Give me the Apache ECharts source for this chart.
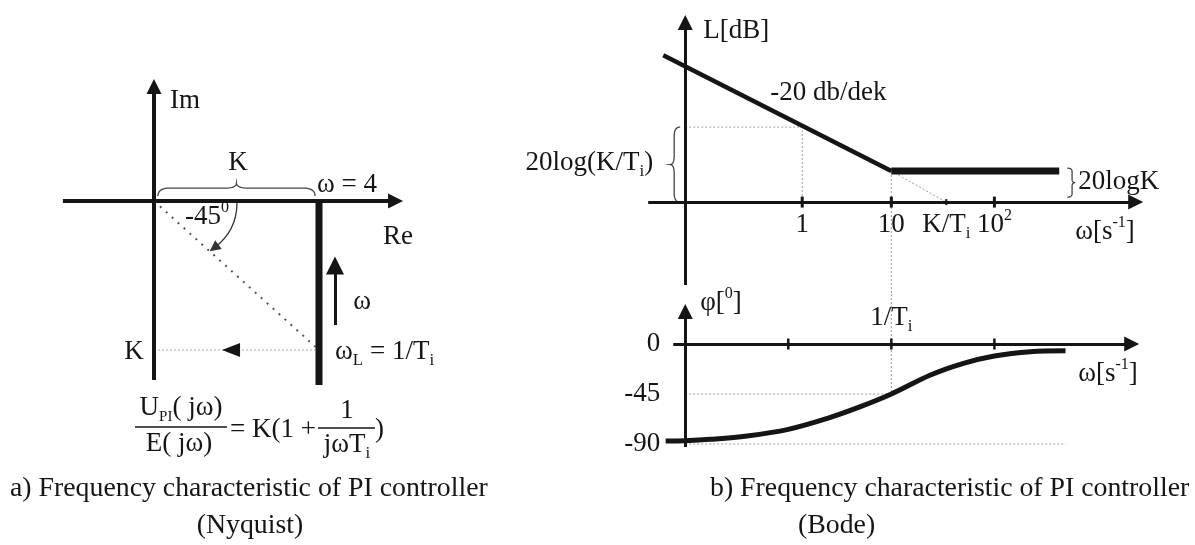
<!DOCTYPE html>
<html>
<head>
<meta charset="utf-8">
<script src="https://cdn.jsdelivr.net/npm/echarts@6/dist/echarts.min.js"></script>
<style>
  html, body { margin: 0; padding: 0; background: #fff; }
  #chart { width: 1195px; height: 545px; }
</style>
</head>
<body>
<div id="chart"></div>
<script>
// ---------- Nyquist plane (Re / Im, in units of K) ----------
const nyqLocus = [[1, 0], [1, -1.235]];            // Re = K, Im falls from 0 as ω decreases
const nyqCorner = [1, -1];                          // point at ω_L = 1/T_i
const nyqReAxis = [[-0.552, 0], [1.464, 0]];
const nyqImAxis = [[0, -1.201], [0, 0.768]];
const nyqOmegaArrow = [[1.097, -0.832], [1.097, -0.433]];
const nyqAngleArc = [[0.503, -0.013], [0.364, -0.315]];
const nyqKArrowAt = [0.467, -1];
const nyqKBrace = [[0.024, 0.034], [0.976, 0.034]];

// ---------- Bode magnitude: x = log10(ω), y = L [dB] ----------
const magSlope = [[-1.213, 94.8], [1, 20]];         // -20 dB/dek asymptote
const magFlat = [[1, 20], [2.629, 20]];             // 20logK
const magExtension = [[1, 20], [1.533, 0]];         // slope continued down to K/T_i
const magKTiLevel = 48.4;                           // 20log(K/T_i)
const magXAxis = [[-1.359, 0], [3.371, 0]];
const magYAxis = [[-1, -53.5], [-1, 115.8]];
const magTickPos = [0.135, 1, 1.533, 2];
const magTickLabels = ['{t|1}', '{t|10}', '{t|K/T}{sub|i}', '{t|10}{sup|2}'];
const magBraces = [
  { from: [-1.049, 48.4], to: [-1.049, 0], depth: 10 },
  { from: [2.707, 21.9], to: [2.707, 3.2], depth: -8 }
];

// ---------- Bode phase: x = log10(ω), y = φ [deg] ----------
const phaseCurve = [
  [-1.19, -87.3], [-1.0, -87.0], [-0.76, -85.8], [-0.4, -82.8], [0, -76.8],
  [0.38, -66.9], [0.7, -56.4], [1.0, -45], [1.38, -27.9], [1.7, -17.4],
  [2.0, -10.8], [2.35, -6.9], [2.69, -6.0]
];
const phaseXAxis = [[-1.116, 0], [3.332, 0]];
const phaseYAxis = [[-1, -92.7], [-1, 29.3]];
const phaseTickPos = [0, 1, 2];
const phaseLevels = [0, -45, -90];
const phaseLevelLabels = ['0', '-45', '-90'];

// axis ranges of the three panels
const NYQ_X = [-0.6, 1.6], NYQ_Y = [-1.3, 0.9];
const LOG_X = [-1.4, 3.5];
const MAG_Y = [-59.3, 122];
const PH_Y = [-99, 45];

const SERIF = '"Liberation Serif", "Times New Roman", serif';
const INK = '#151515';
const GUIDE = '#9a9a9a';
const CAPTION_SIZE = 27.8;
const RICH = {
  t:   { fontSize: 27, fontFamily: SERIF, lineHeight: 34, fill: INK },
  sub: { fontSize: 17, fontFamily: SERIF, lineHeight: 17, verticalAlign: 'bottom', fill: INK },
  sup: { fontSize: 16, fontFamily: SERIF, lineHeight: 22, verticalAlign: 'top', fill: INK },
  ssub:{ fontSize: 15, fontFamily: SERIF, lineHeight: 16, verticalAlign: 'bottom', fill: INK }
};

function axisRef(i) { return { xAxisIndex: i, yAxisIndex: i }; }

function arrowLines(i, segs, width, size, extra) {
  return {
    type: 'lines', coordinateSystem: 'cartesian2d', ...axisRef(i), silent: true, z: 5,
    symbol: ['none', 'triangle'], symbolSize: size,
    lineStyle: Object.assign({ color: INK, width: width, opacity: 1 }, extra || {}),
    data: segs.map(s => ({ coords: s }))
  };
}

function polyline(i, pts, style, opts) {
  return Object.assign({
    type: 'line', ...axisRef(i), silent: true, showSymbol: false, symbol: 'none',
    data: pts, lineStyle: Object.assign({ color: INK, opacity: 1 }, style), z: 3
  }, opts || {});
}

function dotted(i, pts, color, width, dash) {
  return polyline(i, pts, { color: color || GUIDE, width: width || 1, type: dash || [2, 2] }, { z: 2 });
}

function ticks(i, pts, size) {
  return {
    type: 'scatter', ...axisRef(i), silent: true, symbol: 'rect', symbolSize: size,
    itemStyle: { color: INK, opacity: 1 }, data: pts, z: 6
  };
}

// curly brace between two points, bulging by `depth` pixels to the left of the from->to direction
function bracePoints(p1, p2, depth) {
  const dx = p2[0] - p1[0], dy = p2[1] - p1[1];
  const L = Math.hypot(dx, dy);
  const u = [dx / L, dy / L], v = [-u[1], u[0]];
  const h1 = depth * 0.6, h2 = depth;
  const q = Math.min(L * 0.12, Math.abs(depth) * 0.9);
  const map = (t, n) => [p1[0] + t * u[0] + n * v[0], p1[1] + t * u[1] + n * v[1]];
  const out = [];
  const quad = (a, c, b) => {
    for (let k = 0; k <= 10; k++) {
      const s = k / 10, r = 1 - s;
      out.push(map(r * r * a[0] + 2 * r * s * c[0] + s * s * b[0],
                   r * r * a[1] + 2 * r * s * c[1] + s * s * b[1]));
    }
  };
  quad([0, 0], [0, h1], [q, h1]);
  quad([L / 2 - q, h1], [L / 2, h1], [L / 2, h2]);
  quad([L / 2, h2], [L / 2, h1], [L / 2 + q, h1]);
  quad([L - q, h1], [L, h1], [L, 0]);
  return out;
}

function braces(i, list) {
  return {
    type: 'custom', ...axisRef(i), silent: true, z: 4,
    data: list.map(b => [b.from[0], b.from[1], b.to[0], b.to[1]]),
    renderItem(params, api) {
      const b = list[params.dataIndex];
      const p1 = api.coord([api.value(0), api.value(1)]);
      const p2 = api.coord([api.value(2), api.value(3)]);
      return { type: 'polyline', shape: { points: bracePoints(p1, p2, b.depth) },
               style: { stroke: '#444', lineWidth: 1.3, fill: null } };
    }
  };
}

function texts(i, list) {
  return {
    type: 'custom', ...axisRef(i), silent: true, z: 7,
    data: list.map(d => d.at),
    renderItem(params, api) {
      const d = list[params.dataIndex];
      const p = api.coord([api.value(0), api.value(1)]);
      return { type: 'text', x: p[0], y: p[1],
               style: { text: d.text, rich: RICH, fill: INK, fontSize: 27, fontFamily: SERIF,
                        align: d.align || 'left', verticalAlign: 'middle' } };
    }
  };
}

const nyqNotes = [
  { at: [0.097, 0.671], text: '{t|Im}' },
  { at: [0.509, 0.255], text: '{t|K}', align: 'center' },
  { at: [0.988, 0.107], text: '{t|ω = 4}' },
  { at: [0.188, -0.107], text: '{t|-45}{sup|0}' },
  { at: [1.388, -0.242], text: '{t|Re}' },
  { at: [1.261, -0.678], text: '{t|ω}', align: 'center' },
  { at: [-0.121, -1.013], text: '{t|K}', align: 'center' },
  { at: [1.097, -1.013], text: '{t|ω}{sub|L}{t| = 1/T}{sub|i}' }
];

const magNotes = [
  { at: [-0.825, 110.3], text: '{t|L[dB]}' },
  { at: [-0.175, 70.3], text: '{t|-20 db/dek}' },
  { at: [-1.31, 25.2], text: '{t|20log(K/T}{sub|i}{t|)}', align: 'right' },
  { at: [2.813, 12.9], text: '{t|20logK}' },
  { at: [2.784, -19.4], text: '{t|ω[s}{sup|-1}{t|]}' }
].concat(magTickPos.map((x, k) => ({ at: [x, -14.8], text: magTickLabels[k], align: 'center' })));

const phaseNotes = [
  { at: [-0.854, 36.9], text: '{t|φ[}{sup|0}{t|]}' },
  { at: [0.795, 23.4], text: '{t|1/T}{sub|i}' },
  { at: [2.813, -27], text: '{t|ω[s}{sup|-1}{t|]}' }
].concat(phaseLevels.map((y, k) => ({ at: [-1.243, y], text: '{t|' + phaseLevelLabels[k] + '}', align: 'right' })));

const chart = echarts.init(document.getElementById('chart'), null, { renderer: 'canvas' });

const valAxis = (i, range) => ({ type: 'value', gridIndex: i, min: range[0], max: range[1], show: false });

const caption = (x, y, text, align) => ({
  type: 'text', x: x, y: y,
  style: { text: text, fill: INK, fontSize: CAPTION_SIZE, fontFamily: SERIF, align: align, verticalAlign: 'middle' }
});

const option = {
  backgroundColor: '#ffffff',
  animation: false,
  grid: [
    { left: 55, top: 66.9, width: 363, height: 327.8, outerBoundsMode: 'none' },
    { left: 644, top: 13, width: 505, height: 281, outerBoundsMode: 'none' },
    { left: 644, top: 294, width: 505, height: 160, outerBoundsMode: 'none' }
  ],
  xAxis: [valAxis(0, NYQ_X), valAxis(1, LOG_X), valAxis(2, LOG_X)],
  yAxis: [valAxis(0, NYQ_Y), valAxis(1, MAG_Y), valAxis(2, PH_Y)],
  graphic: [
    // transfer function of the PI controller
    { type: 'text', x: 181, y: 408, style: { text: '{t|U}{ssub|PI}{t|( jω)}', rich: RICH, align: 'center', verticalAlign: 'middle' } },
    { type: 'line', shape: { x1: 135, y1: 427, x2: 227, y2: 427 }, style: { stroke: INK, lineWidth: 1.5 } },
    { type: 'text', x: 179, y: 444, style: { text: '{t|E( jω)}', rich: RICH, align: 'center', verticalAlign: 'middle' } },
    { type: 'text', x: 230, y: 430, style: { text: '{t|= K(1 +}', rich: RICH, align: 'left', verticalAlign: 'middle' } },
    { type: 'text', x: 347, y: 411, style: { text: '{t|1}', rich: RICH, align: 'center', verticalAlign: 'middle' } },
    { type: 'line', shape: { x1: 318, y1: 428, x2: 375, y2: 428 }, style: { stroke: INK, lineWidth: 1.5 } },
    { type: 'text', x: 347, y: 445, style: { text: '{t|jωT}{sub|i}', rich: RICH, align: 'center', verticalAlign: 'middle' } },
    { type: 'text', x: 375, y: 430, style: { text: '{t|)}', rich: RICH, align: 'left', verticalAlign: 'middle' } },
    // captions
    caption(10, 489, 'a) Frequency characteristic of PI controller', 'left'),
    caption(250, 526, '(Nyquist)', 'center'),
    caption(710, 489, 'b) Frequency characteristic of PI controller', 'left'),
    caption(798, 526, '(Bode)', 'left')
  ],
  series: [
    // ----- Nyquist -----
    arrowLines(0, [nyqImAxis, nyqReAxis], 4, 15),
    dotted(0, [[0, 0], nyqCorner], '#555', 2, [2, 6]),
    dotted(0, [[0, nyqCorner[1]], nyqCorner], '#aaa', 1, [2, 2]),
    polyline(0, nyqLocus, { width: 7, cap: 'butt' }),
    arrowLines(0, [nyqOmegaArrow], 3, 18),
    arrowLines(0, [nyqAngleArc], 1.3, 11, { curveness: 0.25, color: '#333' }),
    { type: 'scatter', ...axisRef(0), silent: true, symbol: 'triangle', symbolRotate: 90,
      symbolSize: [14, 18], itemStyle: { color: INK, opacity: 1 }, data: [nyqKArrowAt], z: 6 },
    braces(0, [{ from: nyqKBrace[0], to: nyqKBrace[1], depth: -13 }]),
    texts(0, nyqNotes),

    // ----- Bode magnitude -----
    arrowLines(1, [magXAxis, magYAxis], 3, 15),
    dotted(1, [[-1, magKTiLevel], [magTickPos[0], magKTiLevel], [magTickPos[0], 0]]),
    dotted(1, [[1, 20], [1, MAG_Y[0]]]),
    dotted(1, magExtension),
    polyline(1, magSlope, { width: 4.5, cap: 'butt' }),
    polyline(1, magFlat, { width: 7, cap: 'butt' }),
    ticks(1, [[magTickPos[0], 0], [magTickPos[1], 0], [magTickPos[3], 0]], [3, 11]),
    ticks(1, [[magTickPos[2], 0]], [2, 6]),
    braces(1, magBraces),
    texts(1, magNotes),

    // ----- Bode phase -----
    arrowLines(2, [phaseXAxis, phaseYAxis], 3, 15),
    dotted(2, [[1, PH_Y[1]], [1, -45]]),
    dotted(2, [[-1, -45], [1, -45]]),
    dotted(2, [[-1, -90], [phaseCurve[phaseCurve.length - 1][0], -90]]),
    polyline(2, phaseCurve, { width: 5, cap: 'butt', join: 'round' }, { smooth: 0.35 }),
    ticks(2, phaseTickPos.map(x => [x, 0]), [2.5, 11]),
    texts(2, phaseNotes)
  ]
};

chart.setOption(option);
</script>
</body>
</html>
